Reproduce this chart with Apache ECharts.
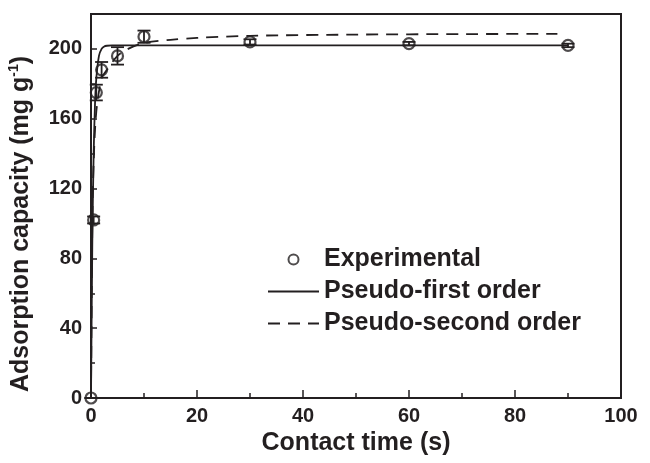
<html>
<head>
    <meta charset="UTF-8">
    <title>Adsorption kinetics</title>
    <script src="https://cdn.jsdelivr.net/npm/echarts@6/dist/echarts.min.js"></script>
</head>
<body style="margin:0">
    <div id="container" style="width: 650px;height:463px;"></div>
<script>
    // experimental points (time, q, error)
    var expTime = [0, 0.5, 1, 2, 5, 10, 30, 60, 90];
    var expQ = [0, 102, 175, 188, 196, 207, 204, 203, 202];
    var expErr = [0, 2, 4.5, 4.5, 5, 3.5, 1.5, 1, 1];

    // fitted curves
    var pfoTime = [0, 0.25, 0.5, 0.75, 1, 1.5, 2, 2.5, 3, 4, 5, 10, 30, 60, 90];
    var pfoQ = [0, 90, 140, 168, 183, 196, 200, 201.4, 201.8, 202, 202, 202, 202, 202, 202];
    var psoTime = [0, 0.25, 0.5, 1, 2, 3, 5, 7, 10, 15, 20, 30, 50, 70, 88];
    var psoQ = [0, 100, 135, 164, 183, 188, 196, 200, 203.4, 205.2, 206.3, 207.5, 208.2, 208.5, 208.6];

    var ink = '#231f20';
    var font = 'Liberation Sans';

    function pairs(xs, ys) {
        var out = [];
        for (var i = 0; i < xs.length; i++) out.push([xs[i], ys[i]]);
        return out;
    }
    var expData = pairs(expTime, expQ);
    var errData = [];
    for (var i = 0; i < expTime.length; i++) errData.push([expTime[i], expQ[i], expErr[i]]);

    var mycharts = echarts.init(document.getElementById('container'));
    var option = {
        animation: false,
        grid: {
            left: 91, right: 29, top: 14, bottom: 65,
            show: true, borderColor: ink, borderWidth: 2
        },
        legend: {
            orient: 'vertical',
            left: 267, top: 247, padding: 0,
            itemWidth: 51, itemHeight: 10, itemGap: 7,
            textStyle: { fontSize: 25, fontWeight: 'bold', fontFamily: font, color: ink, lineHeight: 25 },
            data: [
                'Experimental',
                { name: 'Pseudo-first order', itemStyle: { opacity: 0 } },
                { name: 'Pseudo-second order', itemStyle: { opacity: 0 } }
            ]
        },
        xAxis: {
            type: 'value', min: 0, max: 100, interval: 20,
            name: 'Contact time (s)', nameLocation: 'middle', nameGap: 30,
            nameTextStyle: { fontSize: 25, fontWeight: 'bold', fontFamily: font, color: ink },
            axisLine: { lineStyle: { color: ink, width: 2 } },
            axisTick: { inside: true, length: 8, lineStyle: { width: 1.5 } },
            minorTick: { show: true, splitNumber: 2, length: 5, lineStyle: { color: ink, width: 1.5 } },
            axisLabel: { margin: 8, fontSize: 20, fontWeight: 'bold', fontFamily: font, color: ink },
            splitLine: { show: false }
        },
        yAxis: {
            type: 'value', min: 0, max: 220, interval: 40,
            axisLine: { show: true, lineStyle: { color: ink, width: 2 } },
            axisTick: { show: true, inside: true, length: 6, lineStyle: { width: 1.5 } },
            minorTick: { show: true, splitNumber: 2, length: 4, lineStyle: { color: ink, width: 1.5 } },
            axisLabel: { margin: 9, showMaxLabel: false, fontSize: 20, fontWeight: 'bold', fontFamily: font, color: ink },
            splitLine: { show: false }
        },
        graphic: [{
            type: 'text',
            x: 21, y: 224,
            rotation: Math.PI / 2,
            style: {
                text: '{a|Adsorption capacity (mg g}{s|-1}{a|)}',
                align: 'center', verticalAlign: 'middle',
                fill: ink,
                rich: {
                    a: { fontSize: 25, fontWeight: 'bold', fontFamily: font, fill: ink, lineHeight: 27 },
                    s: { fontSize: 14, fontWeight: 'bold', fontFamily: font, fill: ink, verticalAlign: 'top', lineHeight: 27 }
                }
            }
        }],
        series: [
            {
                name: 'Pseudo-first order', type: 'line',
                data: pairs(pfoTime, pfoQ), smooth: 0.3,
                showSymbol: false, symbol: 'none',
                lineStyle: { color: ink, width: 1.8 },
                itemStyle: { color: ink }, z: 2
            },
            {
                name: 'Pseudo-second order', type: 'line',
                data: pairs(psoTime, psoQ), smooth: 0.3,
                showSymbol: false, symbol: 'none',
                lineStyle: { color: ink, width: 1.8, type: [12, 8] },
                itemStyle: { color: ink }, z: 2
            },
            {
                name: 'errors', type: 'custom',
                data: errData, z: 3,
                renderItem: function (params, api) {
                    var x = api.value(0), y = api.value(1), e = api.value(2);
                    var hi = api.coord([x, y + e]);
                    var lo = api.coord([x, y - e]);
                    var w = 6.5;
                    var st = { stroke: ink, lineWidth: 1.8 };
                    return {
                        type: 'group',
                        children: [
                            { type: 'line', shape: { x1: hi[0], y1: hi[1], x2: lo[0], y2: lo[1] }, style: st },
                            { type: 'line', shape: { x1: hi[0] - w, y1: hi[1], x2: hi[0] + w, y2: hi[1] }, style: st },
                            { type: 'line', shape: { x1: lo[0] - w, y1: lo[1], x2: lo[0] + w, y2: lo[1] }, style: st }
                        ]
                    };
                }
            },
            {
                name: 'Experimental', type: 'scatter',
                data: expData, symbol: 'circle', symbolSize: 11,
                itemStyle: { color: 'rgba(255,255,255,0)', borderColor: ink, borderWidth: 2.2 },
                z: 4
            }
        ]
    };
    mycharts.setOption(option);
</script>
</body>
</html>
